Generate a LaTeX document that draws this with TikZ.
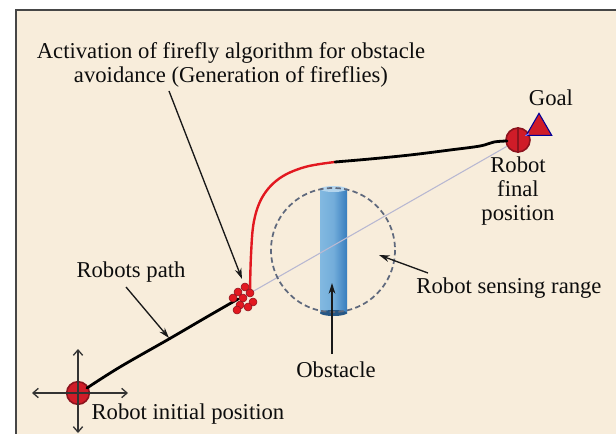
\documentclass[tikz,border=0pt]{standalone}
\usepackage{fontspec}
\setmainfont{Liberation Serif}
\usetikzlibrary{arrows.meta,shapes.geometric,positioning}

\definecolor{paper}{RGB}{248,237,219}
\definecolor{frame}{RGB}{70,70,70}
\definecolor{robotred}{RGB}{208,28,40}
\definecolor{robotdark}{RGB}{140,20,30}
\definecolor{trailred}{RGB}{226,24,32}
\definecolor{rangegray}{RGB}{95,105,125}
\definecolor{barlight}{RGB}{130,185,225}
\definecolor{bardark}{RGB}{55,125,190}
\definecolor{straight}{RGB}{185,185,210}

\begin{document}
\begin{tikzpicture}[x=0.75pt, y=-0.75pt,
    lbl/.style={font=\fontsize{17}{18}\selectfont, text=black!95, inner sep=1pt, align=center},
    ptr/.style={-{Stealth[length=8pt,width=5pt]}, line width=1pt, black!90},
    axis/.style={{Straight Barb[length=4pt,width=7pt]}-{Straight Barb[length=4pt,width=7pt]}, line width=1pt, black!80},
    robot/.style={circle, fill=robotred, draw=robotdark, line width=1.2pt, minimum size=17pt, inner sep=0pt},
    trail/.style={line width=2.1pt, line join=round, line cap=round},
    firefly/.style={fill=trailred, draw=robotdark, line width=0.4pt},
]

% Page and frame
\useasboundingbox (0,0) rectangle (616,434);
\fill[paper] (16,10) rectangle (616,434);
\draw[frame, line width=1.5pt] (16,434) -- (16,10) -- (616,10);

% Obstacle (cylinder)
\shade[left color=barlight, right color=bardark, middle color=barlight!80!bardark]
    (320,189) rectangle (347,313);
\fill[bardark!70!black] (333.5,313) ellipse (13.5 and 3);
\fill[barlight!60!white] (333.5,189) ellipse (13.5 and 3);

% Robots and goal
\node[robot] (start) at (78,393) {};
\node[robot, minimum size=18pt] (final) at (518,140) {};
\node[regular polygon, regular polygon sides=3, fill=robotred, draw=blue!60!black,
      line width=0.8pt, minimum size=22pt, inner sep=0pt] (goal) at (539,128) {};
\draw[blue!50!white, line width=0.8pt] (final) -- (goal);
\draw[robotdark, line width=0.8pt] (final.north) -- (final.south);

% Straight line to goal
\coordinate (ffc) at (245,296);
\draw[straight, line width=0.8pt] (ffc) -- (final);

% Sensing range
\draw[rangegray, line width=1.3pt, dash pattern=on 4pt off 2.5pt] (333,250) circle (62);

% Robot path
\draw[trail, black] plot[smooth, tension=0.6] coordinates
    {(87,388) (120,367) (169,339) (205,318) (238,299)};
\draw[trail, trailred, line width=1.8pt] plot[smooth, tension=0.6] coordinates
    {(250,292) (251,255) (254,221) (263,196) (280,178) (305,167) (335,162)};
\draw[trail, black] plot[smooth, tension=0.6] coordinates
    {(335,162) (370,159) (410,155) (450,150) (480,146) (494,142) (507,141)};

% Fireflies
\foreach \x/\y in {245/287, 238/292, 250/293, 233/298, 243/298,
                   253/302, 240/305, 248/307, 237/310} {
    \fill[firefly] (\x,\y) circle (4);
}

% Cross at initial position
\coordinate (xl) at (32,393);
\coordinate (xr) at (128,393);
\coordinate (yt) at (78,349);
\coordinate (yb) at (78,433);
\draw[axis] (xl) -- (xr);
\draw[axis] (yt) -- (yb);

% Labels
\node[lbl] (title) at (231,65) {Activation of firefly algorithm for obstacle\\avoidance (Generation of fireflies)};
\node[lbl] (goaltxt) at (551,98) {Goal};
\node[lbl, below=2pt of final] (finaltxt) {Robot\\final\\position};
\node[lbl] (pathtxt) at (131,272) {Robots path};
\node[lbl] (rangetxt) at (509,288) {Robot sensing range};
\node[lbl] (obstxt) at (336,370) {Obstacle};
\node[lbl, anchor=west] (starttxt) at (90,414) {Robot initial position};

% Pointers
\coordinate (t1) at (169,91);
\coordinate (ffTop) at (242,279);
\coordinate (t2) at (126,287);
\coordinate (onPath) at (169,338);
\coordinate (t3) at (428,273);
\coordinate (inRange) at (379,255);
\coordinate (t4) at (332,354);
\coordinate (onBar) at (332,283);
\draw[ptr] (t1) -- (ffTop);
\draw[ptr] (t2) -- (onPath);
\draw[ptr] (t3) -- (inRange);
\draw[ptr] (t4) -- (onBar);

\end{tikzpicture}
\end{document}
